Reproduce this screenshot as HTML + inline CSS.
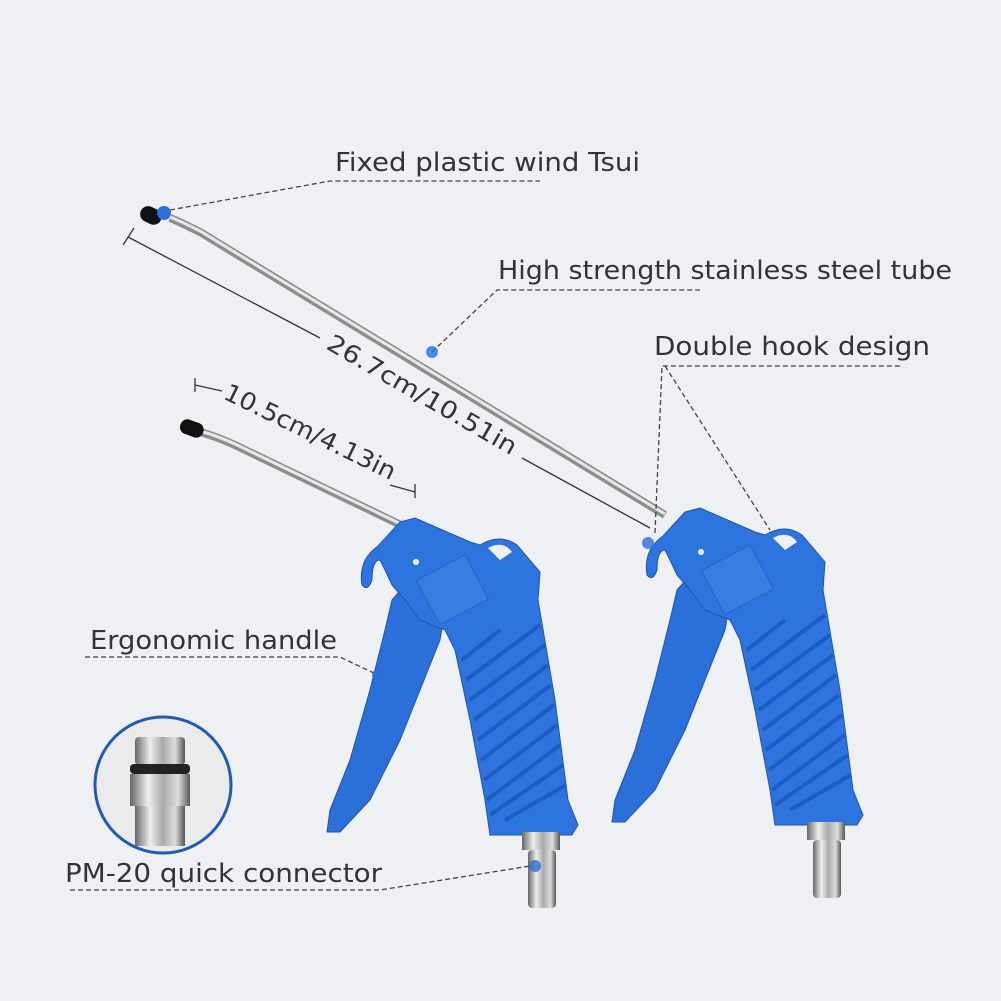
<!DOCTYPE html>
<html><head><style>
html,body{margin:0;padding:0;background:#eef0f3;}
svg{display:block}
text{font-family:"DejaVu Sans","Liberation Sans",sans-serif;fill:#333;}
</style></head><body>
<svg width="1001" height="1001" viewBox="0 0 1001 1001" xmlns="http://www.w3.org/2000/svg">
<defs>
<linearGradient id="met" x1="0" y1="0" x2="1" y2="0">
<stop offset="0" stop-color="#666"/><stop offset="0.3" stop-color="#eee"/><stop offset="0.55" stop-color="#aaa"/><stop offset="0.8" stop-color="#ddd"/><stop offset="1" stop-color="#555"/>
</linearGradient>
<g id="gun">
<path d="M405,585 L445,610 L440,640 L420,690 L400,740 L370,800 L340,832 L327,832 L330,810 L350,760 L370,690 L385,630 L392,600 Z" fill="#2b6fd8" stroke="#1d55b0" stroke-width="1"/>
<path d="M400,522 L415,518 L470,542 L480,545 Q500,533 517,545 L540,572 L538,600 L555,700 L568,800 L578,825 L572,835 L490,835 L485,800 L470,720 L455,650 L445,630 L420,620 L405,600 L392,585 L385,570 L380,560 Q372,560 372,580 Q368,592 362,585 Q358,560 378,546 Z" fill="#2e74de" stroke="#1d55b0" stroke-width="1"/>
<path d="M488,548 Q503,540 512,552 L500,560 Z" fill="#eef0f3"/>
<g stroke="#1f5cbf" stroke-width="4">
<line x1="462" y1="660" x2="500" y2="630"/><line x1="466" y1="680" x2="540" y2="625"/>
<line x1="470" y1="700" x2="545" y2="645"/><line x1="474" y1="720" x2="548" y2="665"/>
<line x1="478" y1="740" x2="551" y2="685"/><line x1="481" y1="760" x2="554" y2="705"/>
<line x1="484" y1="780" x2="557" y2="725"/><line x1="487" y1="800" x2="560" y2="745"/>
<line x1="490" y1="815" x2="563" y2="765"/><line x1="505" y1="820" x2="566" y2="785"/>
</g>
<rect x="425" y="565" width="55" height="50" fill="#3a7de0" stroke="#2563c8" transform="rotate(-28 452 590)"/>
<circle cx="416" cy="562" r="3" fill="#eee"/>
<rect x="522" y="832" width="38" height="18" fill="url(#met)"/>
<rect x="528" y="850" width="28" height="58" rx="4" fill="url(#met)"/>
</g>
</defs>

<!-- long tube -->
<path d="M170,218 Q180,222 200,232 L665,515" stroke="#8d8d8d" stroke-width="8" fill="none"/>
<path d="M170,217 Q180,221 200,231 L665,514" stroke="#e8e8e8" stroke-width="3" fill="none"/>
<rect x="140" y="207" width="22" height="16" rx="8" fill="#111" transform="rotate(25 150 215)"/>
<circle cx="164" cy="213" r="7" fill="#2b6fd8"/>
<!-- short tube -->
<path d="M200,432 Q215,436 235,445 L405,527" stroke="#8d8d8d" stroke-width="8" fill="none"/>
<path d="M200,431 Q215,435 235,444 L405,526" stroke="#e8e8e8" stroke-width="3" fill="none"/>
<rect x="180" y="421" width="24" height="15" rx="7" fill="#111" transform="rotate(20 192 428)"/>

<use href="#gun"/>
<use href="#gun" transform="translate(285,-10)"/>

<!-- dimension lines -->
<g stroke="#333" stroke-width="1.3" fill="none">
<line x1="128" y1="237" x2="320" y2="338"/>
<line x1="522" y1="458" x2="650" y2="528"/>
<line x1="123" y1="245" x2="134" y2="228"/>
<line x1="195" y1="385" x2="222" y2="391"/>
<line x1="195" y1="378" x2="195" y2="392"/>
<line x1="390" y1="485" x2="415" y2="492"/>
<line x1="415" y1="484" x2="415" y2="498"/>
</g>
<text x="0" y="0" font-size="24" textLength="215" lengthAdjust="spacingAndGlyphs" transform="translate(325,348) rotate(30)">26.7cm/10.51in</text>
<text x="0" y="0" font-size="24" textLength="188" lengthAdjust="spacingAndGlyphs" transform="translate(222,398) rotate(26)">10.5cm/4.13in</text>

<!-- leaders -->
<g stroke="#444" stroke-width="1.3" stroke-dasharray="5,3" fill="none">
<polyline points="170,210 330,181 540,181"/>
<polyline points="432,352 497,290 700,290"/>
<polyline points="655,533 662,366 900,366"/>
<line x1="665" y1="366" x2="770" y2="530"/>
<polyline points="85,657 340,657 378,675"/>
<polyline points="70,890 380,890 530,866"/>
</g>
<circle cx="432" cy="352" r="6" fill="#2b6fd8" opacity="0.8"/>
<circle cx="378" cy="675" r="6" fill="#2b6fd8" opacity="0.8"/>
<circle cx="535" cy="866" r="6" fill="#2b6fd8" opacity="0.8"/>
<circle cx="648" cy="543" r="6" fill="#2b6fd8" opacity="0.8"/>

<text x="335" y="171" font-size="26" textLength="305" lengthAdjust="spacingAndGlyphs">Fixed plastic wind Tsui</text>
<text x="498" y="279" font-size="26" textLength="454" lengthAdjust="spacingAndGlyphs">High strength stainless steel tube</text>
<text x="654" y="355" font-size="26" textLength="276" lengthAdjust="spacingAndGlyphs">Double hook design</text>
<text x="90" y="649" font-size="26" textLength="247" lengthAdjust="spacingAndGlyphs">Ergonomic handle</text>
<text x="65" y="882" font-size="26" textLength="317" lengthAdjust="spacingAndGlyphs">PM-20 quick connector</text>

<!-- inset circle -->
<circle cx="163" cy="785" r="68" fill="#ebebec" stroke="#1f5bb5" stroke-width="3"/>
<rect x="135" y="737" width="50" height="28" rx="4" fill="url(#met)"/>
<rect x="130" y="764" width="60" height="10" rx="4" fill="#222"/>
<rect x="130" y="774" width="60" height="32" fill="url(#met)"/>
<rect x="135" y="806" width="50" height="40" fill="url(#met)"/>
</svg>
</body></html>
